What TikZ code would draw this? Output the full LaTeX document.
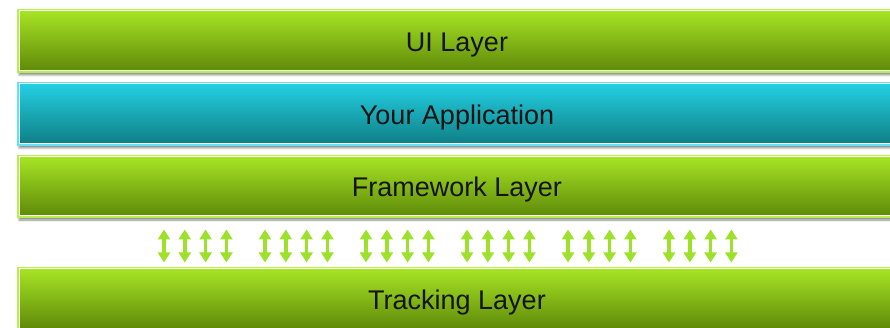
\documentclass[tikz,border=0pt]{standalone}
\usepackage{fontspec}
\setmainfont{Liberation Sans}
\usepackage{tikz}
\usetikzlibrary{arrows.meta,positioning,shadows.blur}
\definecolor{ink}{HTML}{141414}
\definecolor{limetop}{HTML}{A6E424}
\definecolor{limebot}{HTML}{5F8909}
\definecolor{limeedge}{HTML}{B6F04C}
\definecolor{cyantop}{HTML}{23CFE3}
\definecolor{cyanbot}{HTML}{0F7F84}
\definecolor{cyanedge}{HTML}{62E2F2}
\definecolor{arrowgreen}{HTML}{9DE12B}
\tikzset{
  layerbox/.style={rectangle,minimum width=876pt,minimum height=60pt,inner sep=0pt,
                   draw=white!92!#1,line width=1pt,text=ink,
                   text height=21pt,text depth=0pt,
                   font=\fontsize{27}{32}\selectfont,
                   blur shadow={shadow xshift=0pt,shadow yshift=-4pt,
                                shadow blur radius=2pt,shadow opacity=45},
                   preaction={draw=#1,line width=4pt}},
  greenbox/.style={layerbox=limeedge,top color=limetop,bottom color=limebot},
  cyanbox/.style={layerbox=cyanedge,top color=cyantop,bottom color=cyanbot},
  syncarr/.style={{Triangle[width=12pt,length=10pt]}-{Triangle[width=12pt,length=10pt]},
                  line width=3.5pt,draw=arrowgreen}
}
\begin{document}
\begin{tikzpicture}[x=1pt,y=-1pt]
  \useasboundingbox (0,0) rectangle (890,328);
  \clip (0,0) rectangle (890,328);
  \node[greenbox] (ui) at (457,41) {UI Layer};
  \node[cyanbox] (app) at (457,114) {Your Application};
  \node[greenbox,minimum height=59pt] (fw) at (457,186.5) {Framework Layer};
  \node[greenbox] (trk) at (457,299) {Tracking Layer};
  % six groups of four links
  \foreach \g in {0,...,5}
    \foreach \i in {0,...,3}{
      \pgfmathsetmacro\ax{164+101*\g+20.8*\i}
      \draw[syncarr,shorten <=13pt,shorten >=6pt] (fw.south -| \ax,0) -- (trk.north -| \ax,0);
    }
\end{tikzpicture}
\end{document}
